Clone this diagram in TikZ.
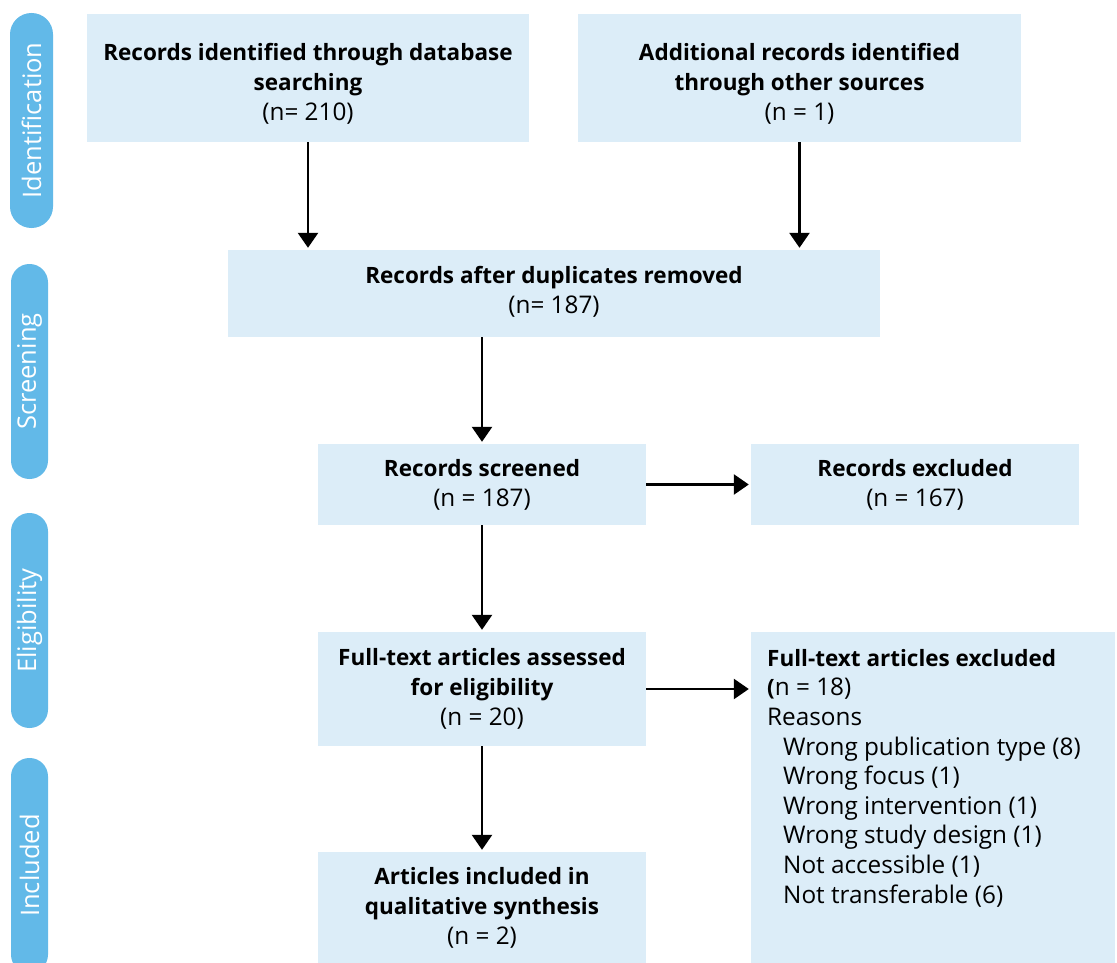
\documentclass[tikz,border=0pt]{standalone}
\usepackage{fontspec}
\setmainfont{Open Sans}
\usetikzlibrary{arrows.meta}
\definecolor{pillc}{HTML}{62B9E8}
\definecolor{boxc}{HTML}{DCEDF8}
\newcommand{\bt}[1]{{\fontsize{22.5}{30}\selectfont\bfseries #1}}
\tikzset{
  box/.style={fill=boxc, inner sep=0pt, align=center, font=\fontsize{24.3}{30}\selectfont},
  pill/.style={fill=pillc, rounded corners=18.4pt, minimum width=215pt, minimum height=37pt, rotate=90, text=white, font=\fontsize{25.5}{28}\selectfont, inner sep=0pt},
  arr/.style={line width=2.6pt, -{Triangle[width=20pt,length=15pt]}, shorten >=2pt}
}
\begin{document}
\begin{tikzpicture}[x=1pt,y=-1pt]
\clip (0,0) rectangle (1117,963);
\fill[white] (0,0) rectangle (1117,963);
% phase pills
\node[pill, minimum height=43pt, rounded corners=21.4pt] (pid) at (31.5,120.5) {Identification};
\node[pill] (psc) at (29.5,371.5) {Screening};
\node[pill] (pel) at (29.5,620.5) {Eligibility};
\node[pill] (pin) at (29.5,865.5) {Included};
% boxes
\node[box, minimum width=442pt, minimum height=128pt] (b1) at (308,78) {\rule{0pt}{29pt}\bt{Records identified through database}\\\bt{searching}\\(n= 210)};
\node[box, minimum width=443pt, minimum height=128pt] (b2) at (799.5,78) {\rule{0pt}{29pt}\bt{Additional records identified}\\\bt{through other sources}\\(n = 1)};
\node[box, minimum width=652pt, minimum height=87pt] (b3) at (554,293.5) {\bt{Records after duplicates removed}\\(n= 187)\rule[-8pt]{0pt}{1pt}};
\node[box, minimum width=328pt, minimum height=81pt] (b4) at (482,484.5) {\bt{Records screened}\\(n = 187)};
\node[box, minimum width=328pt, minimum height=81pt] (b5) at (915,484.5) {\bt{Records excluded}\\(n = 167)};
\node[box, minimum width=328pt, minimum height=114pt] (b6) at (482,689) {\bt{Full-text articles assessed}\\\bt{for eligibility}\\(n = 20)};
\node[box, minimum width=364pt, minimum height=331pt] (b7) at (933,797.5) {};
\node[box, anchor=north west, align=left, font=\fontsize{24.3}{29.6}\selectfont] (t7) at (767,649) {\bt{Full-text articles excluded}\\\bt{(}n = 18)\\Reasons\\\hspace{16pt}Wrong publication type (8)\\\hspace{16pt}Wrong focus (1)\\\hspace{16pt}Wrong intervention (1)\\\hspace{16pt}Wrong study design (1)\\\hspace{16pt}Not accessible (1)\\\hspace{16pt}Not transferable (6)};
\node[box, minimum width=328pt, minimum height=111pt] (b8) at (482,907.5) {\bt{Articles included in}\\\bt{qualitative synthesis}\\(n = 2)};
% arrows
\draw[arr] (b1.south) -- (b1.south |- b3.north);
\draw[arr] (b2.south) -- (b2.south |- b3.north);
\draw[arr] (b4.north |- b3.south) -- (b4.north);
\draw[arr] (b4.east) -- (b5.west);
\draw[arr] (b4.south) -- (b6.north);
\draw[arr] (b6.east) -- (b6.east -| b7.west);
\draw[arr] (b6.south) -- (b8.north);
\end{tikzpicture}
\end{document}
